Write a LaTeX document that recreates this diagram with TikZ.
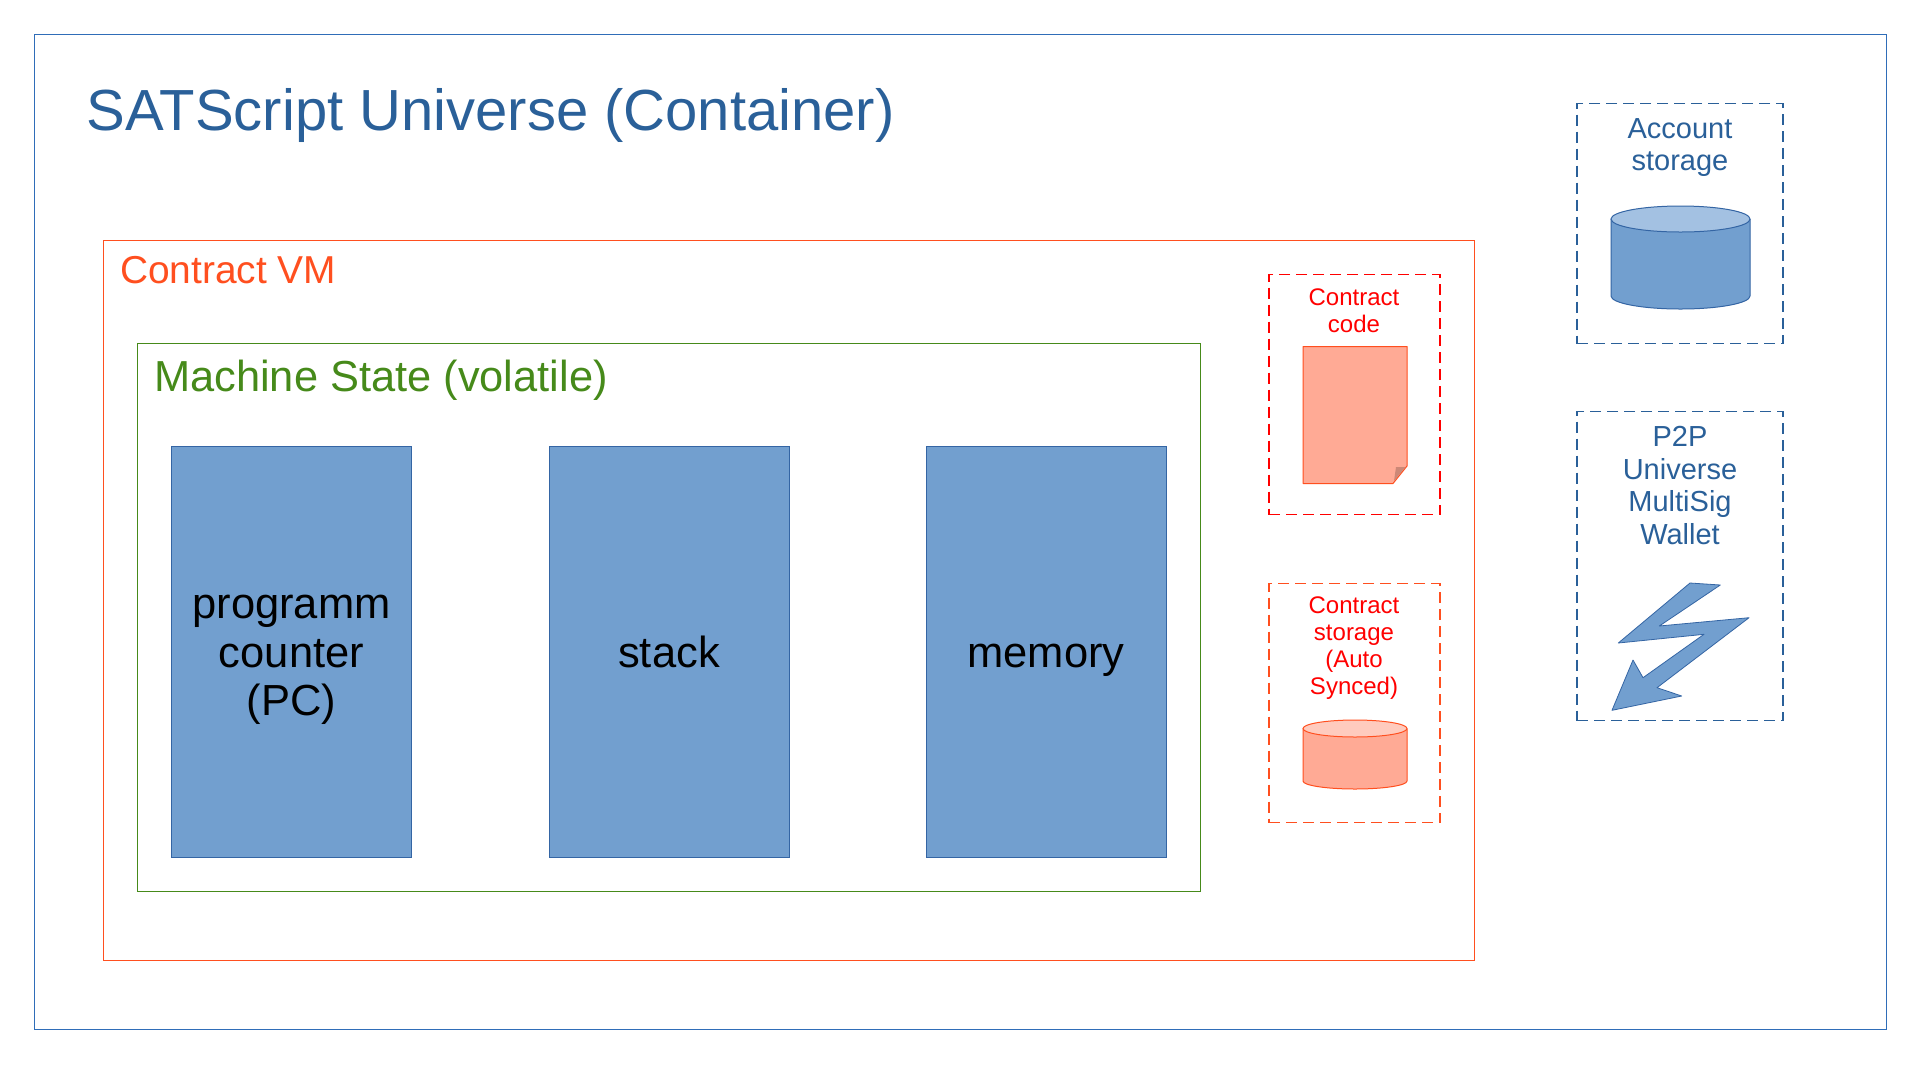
\documentclass[tikz,border=0pt]{standalone}
\usepackage{fontspec}
\setmainfont{Liberation Sans}
\definecolor{bfill}{HTML}{729FCF}
\definecolor{bline}{HTML}{3465A4}
\definecolor{bdark}{HTML}{2A6099}
\definecolor{btop}{HTML}{A3C1E2}
\definecolor{outerline}{HTML}{2F6DB8}
\definecolor{orline}{HTML}{FF4F1F}
\definecolor{orfill}{HTML}{FFAA95}
\definecolor{ortop}{HTML}{FFCBBE}
\definecolor{fold}{HTML}{CC8877}
\definecolor{grn}{HTML}{468A1A}
\newcommand{\regline}[1]{\raisebox{0pt}[31pt][0pt]{#1}}
\tikzset{
  x=1pt,y=-1pt,
  frame/.style={draw=#1,line width=1pt,anchor=north west,inner sep=0pt,outer sep=0pt},
  dashbox/.style={frame=#1,line width=1.15pt,dash pattern=on 11pt off 6pt},
  reg/.style={frame=bline,fill=bfill,text=black,font=\fontsize{43.5}{48.4}\selectfont,align=center,minimum width=240pt,minimum height=411pt},
  heading/.style={anchor=west,inner sep=0pt,text=#1},
  caption/.style={anchor=north,inner sep=0pt,align=center,text=#1},
}
\begin{document}
\begin{tikzpicture}
\useasboundingbox (0,0) rectangle (1920,1080);
\fill[white] (0,0) rectangle (1920,1080);
\node[frame=outerline,minimum width=1852pt,minimum height=995pt] (outer) at (34.5,34.5) {};
\node[frame=orline,minimum width=1371pt,minimum height=720pt] (vm) at (103.5,240.5) {};
\node[frame=grn,minimum width=1063pt,minimum height=548pt] (state) at (137.5,343.5) {};
\node[heading=bdark,font=\fontsize{58}{70}\selectfont] (title) at (86.5,115) {SATScript Universe (Container)};
\node[heading=orline,font=\fontsize{38.9}{48}\selectfont] (vmlabel) at (120,270) {Contract VM};
\node[heading=grn,font=\fontsize{43.4}{52}\selectfont] (statelabel) at (154,380) {Machine State (volatile)};
\node[reg] (pc) at (171.5,446) {\regline{programm}\\counter\\\regline{(PC)}};
\node[reg] (stack) at (549,446) {\regline{stack}};
\node[reg] (memory) at (926,446) {\regline{memory}};
\node[dashbox=red,minimum width=171pt,minimum height=240pt] (codebox) at (1269,274.5) {};
\node[dashbox=orline,minimum width=171pt,minimum height=239pt] (storebox) at (1269,583.5) {};
\node[dashbox=bdark,minimum width=206pt,minimum height=240pt] (accbox) at (1577,103.5) {};
\node[dashbox=bdark,minimum width=206pt,minimum height=309pt] (p2pbox) at (1577,411.5) {};
\node[caption=red,font=\fontsize{24}{27}\selectfont] (codetext) at (1354,288.5) {Contract\\code};
\node[caption=red,font=\fontsize{24}{27}\selectfont] (storetext) at (1354,596.5) {Contract\\storage\\(Auto\\Synced)};
\node[caption=bdark,font=\fontsize{29}{32.7}\selectfont] (acctext) at (1680,118) {Account\\storage};
\node[caption=bdark,font=\fontsize{29}{32.7}\selectfont] (p2ptext) at (1680,426) {P2P\\Universe\\MultiSig\\Wallet};
% document
\draw[draw=orline,fill=orfill,line width=1pt,line join=round] (1303,346.5) -- (1407,346.5) -- (1407,466) -- (1393,483.5) -- (1303,483.5) -- cycle;
\fill[fold] (1396,467) -- (1405.5,467) -- (1394,481) -- cycle;
% contract storage cylinder
\draw[draw=orline,fill=orfill,line width=1pt] (1303,728.5) -- (1303,781) arc[start angle=180,end angle=360,x radius=52,y radius=-8] -- (1407,728.5);
\draw[draw=orline,fill=ortop,line width=1pt] (1355,728.5) ellipse[x radius=52,y radius=8.5];
% account storage cylinder
\draw[draw=bline,fill=bfill,line width=1pt] (1611,219) -- (1611,296) arc[start angle=180,end angle=360,x radius=69.5,y radius=-13] -- (1750,219);
\draw[draw=bline,fill=btop,line width=1pt] (1680.5,219) ellipse[x radius=69.5,y radius=13];
% lightning arrow
\draw[draw=bline,fill=bfill,line width=0.8pt,line join=round] (1690,583) -- (1720.3,585) -- (1659.3,626) -- (1749,617.7) -- (1657,687.7) -- (1681.7,696) -- (1612,710.3) -- (1633,660) -- (1643,677.7) -- (1704,634.3) -- (1618.3,643) -- cycle;
\end{tikzpicture}
\end{document}
